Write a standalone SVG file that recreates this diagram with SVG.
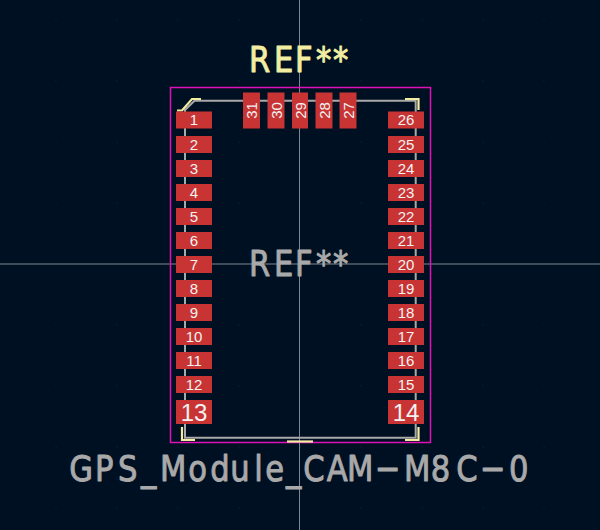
<svg xmlns="http://www.w3.org/2000/svg" width="600" height="530" viewBox="0 0 600 530">
<defs>
<style>
.bg{fill:#001023}
.ax{stroke:#7f8690;stroke-width:1;fill:none}
.crt{stroke:#e010b8;stroke-width:1.5;fill:none}
.fab{stroke:#a9a9a9;stroke-width:2;fill:none}
.silk{stroke:#f2eda1;stroke-width:2.2;fill:none}
.pad{fill:#c83434}
.t{font-family:"Liberation Sans",Arial,sans-serif;text-anchor:middle;stroke-linejoin:round}
.pn{fill:#f2f2f2;font-size:15px}
.big{fill:#f2f2f2;font-size:24px}
.lab{font-family:"DejaVu Sans",sans-serif;font-size:36px;stroke-width:1;stroke-linejoin:round}
.gd{fill:#2a3648}
</style>
<pattern id="grid" x="56" y="20" width="61" height="61" patternUnits="userSpaceOnUse"><rect x="-0.5" y="-0.5" width="1" height="1" class="gd"/><rect x="60.5" y="60.5" width="1" height="1" class="gd"/></pattern>
</defs>
<rect class="bg" width="600" height="530"/>
<rect width="600" height="530" fill="url(#grid)"/>
<path class="ax" d="M299.5 0V530M0 264H600"/>
<rect class="crt" x="170.500" y="87.500" width="260" height="355"/>
<path class="fab" d="M194.500 100.700H415.700V437.700H185V110Z"/>
<g id="connectors"></g>
<path class="silk" d="M177 110.500H182L192 99H201"/>
<path class="silk" d="M405 99H418.500V110"/>
<path class="silk" d="M182 427V440H195"/>
<path class="silk" d="M405 440H418.500V427"/>
<path class="silk" d="M287 441.500H313"/>
<g id="pads-left">
<g id="pad1"><rect class="pad" x="176" y="111.500" width="36" height="17"/><text class="t pn" x="194" y="125">1</text></g>
<g id="pad2"><rect class="pad" x="176" y="136" width="36" height="17"/><text class="t pn" x="194" y="149.500">2</text></g>
<g id="pad3"><rect class="pad" x="176" y="160" width="36" height="17"/><text class="t pn" x="194" y="173.500">3</text></g>
<g id="pad4"><rect class="pad" x="176" y="184" width="36" height="17"/><text class="t pn" x="194" y="197.500">4</text></g>
<g id="pad5"><rect class="pad" x="176" y="208" width="36" height="17"/><text class="t pn" x="194" y="221.500">5</text></g>
<g id="pad6"><rect class="pad" x="176" y="232" width="36" height="17"/><text class="t pn" x="194" y="245.500">6</text></g>
<g id="pad7"><rect class="pad" x="176" y="256" width="36" height="17"/><text class="t pn" x="194" y="269.500">7</text></g>
<g id="pad8"><rect class="pad" x="176" y="280" width="36" height="17"/><text class="t pn" x="194" y="293.500">8</text></g>
<g id="pad9"><rect class="pad" x="176" y="304" width="36" height="17"/><text class="t pn" x="194" y="317.500">9</text></g>
<g id="pad10"><rect class="pad" x="176" y="328" width="36" height="17"/><text class="t pn" x="194" y="341.500">10</text></g>
<g id="pad11"><rect class="pad" x="176" y="352" width="36" height="17"/><text class="t pn" x="194" y="365.500">11</text></g>
<g id="pad12"><rect class="pad" x="176" y="376" width="36" height="17"/><text class="t pn" x="194" y="389.500">12</text></g>
<g id="pad13"><rect class="pad" x="176" y="400" width="36" height="24"/><text class="t big" x="194" y="420.500">13</text></g>
</g>
<g id="pads-right">
<g id="pad14"><rect class="pad" x="388" y="400" width="36" height="24"/><text class="t big" x="406" y="420.500">14</text></g>
<g id="pad15"><rect class="pad" x="388" y="376" width="36" height="17"/><text class="t pn" x="406" y="389.500">15</text></g>
<g id="pad16"><rect class="pad" x="388" y="352" width="36" height="17"/><text class="t pn" x="406" y="365.500">16</text></g>
<g id="pad17"><rect class="pad" x="388" y="328" width="36" height="17"/><text class="t pn" x="406" y="341.500">17</text></g>
<g id="pad18"><rect class="pad" x="388" y="304" width="36" height="17"/><text class="t pn" x="406" y="317.500">18</text></g>
<g id="pad19"><rect class="pad" x="388" y="280" width="36" height="17"/><text class="t pn" x="406" y="293.500">19</text></g>
<g id="pad20"><rect class="pad" x="388" y="256" width="36" height="17"/><text class="t pn" x="406" y="269.500">20</text></g>
<g id="pad21"><rect class="pad" x="388" y="232" width="36" height="17"/><text class="t pn" x="406" y="245.500">21</text></g>
<g id="pad22"><rect class="pad" x="388" y="208" width="36" height="17"/><text class="t pn" x="406" y="221.500">22</text></g>
<g id="pad23"><rect class="pad" x="388" y="184" width="36" height="17"/><text class="t pn" x="406" y="197.500">23</text></g>
<g id="pad24"><rect class="pad" x="388" y="160" width="36" height="17"/><text class="t pn" x="406" y="173.500">24</text></g>
<g id="pad25"><rect class="pad" x="388" y="136" width="36" height="17"/><text class="t pn" x="406" y="149.500">25</text></g>
<g id="pad26"><rect class="pad" x="388" y="111.500" width="36" height="17"/><text class="t pn" x="406" y="125">26</text></g>
</g>
<g id="pads-top">
<g id="pad31"><rect class="pad" x="243" y="92.500" width="17" height="36"/><text class="t pn" transform="translate(257 110.500) rotate(-90)">31</text></g>
<g id="pad30"><rect class="pad" x="267.500" y="92.500" width="17" height="36"/><text class="t pn" transform="translate(281.500 110.500) rotate(-90)">30</text></g>
<g id="pad29"><rect class="pad" x="292" y="92.500" width="16" height="36"/><text class="t pn" transform="translate(305.500 110.500) rotate(-90)">29</text></g>
<g id="pad28"><rect class="pad" x="315.500" y="92.500" width="17" height="36"/><text class="t pn" transform="translate(329.500 110.500) rotate(-90)">28</text></g>
<g id="pad27"><rect class="pad" x="339.500" y="92.500" width="17" height="36"/><text class="t pn" transform="translate(353.500 110.500) rotate(-90)">27</text></g>
</g>
<text id="ref-top" class="lab" transform="scale(.85 1)" x="292.900 322.400 347.100 371.800 391.800" y="72.500" fill="#f2eda1" stroke="#f2eda1">REF**</text>
<text id="ref-mid" class="lab" transform="scale(.85 1)" x="292.900 322.400 347.100 371.800 391.800" y="276.500" fill="#a9a9a9" stroke="#a9a9a9">REF**</text>
<text id="value" class="lab" transform="scale(.85 1)" x="81.500 111.800 138.800 165.900 188.200 221.500 247.400 270.900 299.200 312.100 336.500 356.800 384.500 408.200 440.900 475.300 506.900 536.800 564.500 598.800" y="481.500" fill="#a9a9a9" stroke="#a9a9a9">GPS_Module_CAM−M8C−0</text>
</svg>
